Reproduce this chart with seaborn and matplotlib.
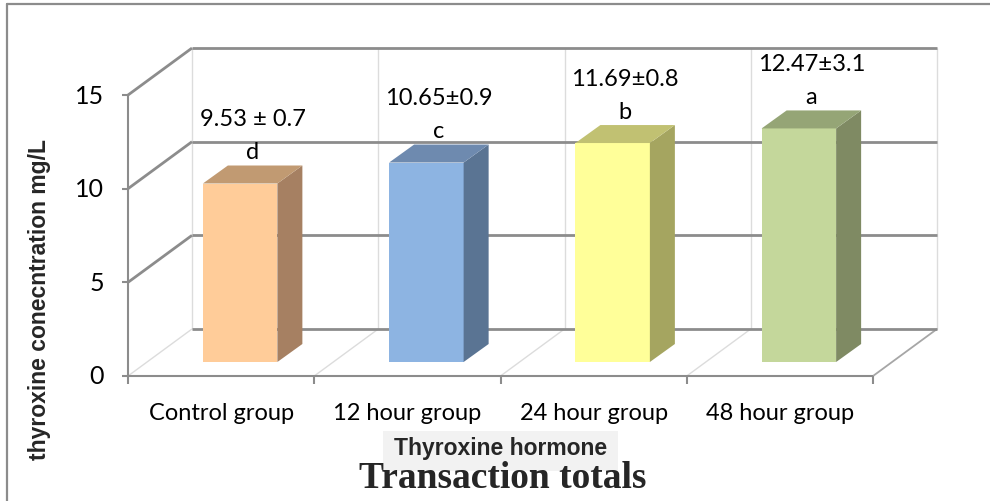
import numpy as np
import pandas as pd
import matplotlib
matplotlib.use("Agg")
import matplotlib.pyplot as plt
import seaborn as sns
from matplotlib.patches import Polygon, Rectangle
from matplotlib.lines import Line2D

# ---------------- data ----------------
categories = ["Control group", "12 hour group", "24 hour group", "48 hour group"]
values = [9.53, 10.65, 11.69, 12.47]
sd_labels = ["9.53 \u00b1 0.7", "10.65\u00b10.9", "11.69\u00b10.8", "12.47\u00b13.1"]
letters = ["d", "c", "b", "a"]
yticks = [0, 5, 10, 15]
front_colors = ["#FFCC99", "#8DB4E2", "#FFFF99", "#C4D79B"]
top_colors = ["#C19A72", "#6E8AAF", "#C1C172", "#95A576"]
side_colors = ["#A68062", "#5A7493", "#A5A560", "#7F8A63"]

sns.set_theme(style="white")
plt.rcParams['font.family'] = ['Lato', 'DejaVu Sans']

W, H, DPI = 990, 502, 100
fig = plt.figure(figsize=(W / DPI, H / DPI), dpi=DPI)

# geometry (pixels, image coords with y down)
FX0, FY0 = 128, 377
CAT_W = 186.25
UNIT_Y = 18.73
BAR_OFF = (19, 14)
BACK_OFF = (64, 47)
DEPTH = (25, 18)

left = (FX0 + BAR_OFF[0]) / W
bottom = (H - (FY0 - BAR_OFF[1])) / H
ax = fig.add_axes([left, bottom, 4 * CAT_W / W, 15 * UNIT_Y / H])

df = pd.DataFrame({"group": categories, "value": values})
sns.barplot(data=df, x="group", y="value", hue="group", palette=front_colors,
            width=0.4, ax=ax, legend=False, saturation=1, edgecolor="none",
            linewidth=0, zorder=5)
ax.set_xlim(-0.5, 3.5)
ax.set_ylim(0, 15)
ax.axis("off")


def off(dx, dy):
    return dx / CAT_W, dy / UNIT_Y


fo = off(-BAR_OFF[0], -BAR_OFF[1])
bo = off(BACK_OFF[0] - BAR_OFF[0], BACK_OFF[1] - BAR_OFF[1])
dp = off(*DEPTH)
n = len(categories)
xl, xr = -0.5, n - 0.5
ymax = yticks[-1]

dark = "#8c8c8c"
light = "#dcdcdc"

def line(xs, ys, color, lw, z=1):
    ax.plot(xs, ys, color=color, lw=lw, clip_on=False, zorder=z,
            solid_capstyle="butt")

# back wall verticals
for k in range(n + 1):
    x = xl + k + bo[0]
    line([x, x], [bo[1], ymax + bo[1]], light, 1.0, 0.5)
# floor diagonals
for k in range(n + 1):
    x = xl + k
    col = "#a6a6a6" if k == n else light
    line([x + fo[0], x + bo[0]], [fo[1], bo[1]], col, 1.3 if k == n else 1.0, 0.6)
# back wall gridlines + side wall diagonals
for v in yticks:
    line([xl + bo[0], xr + bo[0]], [v + bo[1], v + bo[1]], dark, 2.0, 1)
    if v > 0:
        line([xl + fo[0], xl + bo[0]], [v + fo[1], v + bo[1]], dark, 2.0, 1)

# front y axis
line([xl + fo[0], xl + fo[0]], [fo[1], ymax + fo[1]], dark, 1.5, 2)
for v in yticks:
    line([xl + fo[0] - 6 / CAT_W, xl + fo[0]], [v + fo[1], v + fo[1]], dark, 1.5, 2)
    ax.annotate(str(v), xy=(xl + fo[0], v + fo[1]), xytext=(-24, 0),
                textcoords="offset pixels", ha="right", va="center",
                fontsize=18, color="black", annotation_clip=False)
# front x axis
line([xl + fo[0], xr + fo[0]], [fo[1], fo[1]], dark, 1.5, 2)
for k in range(n + 1):
    x = xl + k + fo[0]
    line([x, x], [fo[1], fo[1] - 8 / UNIT_Y], dark, 1.5, 2)
for i, c in enumerate(categories):
    ax.annotate(c, xy=(i + fo[0], fo[1]), xytext=(0, -36),
                textcoords="offset pixels", ha="center", va="center",
                fontsize=17, color="black", annotation_clip=False)

# 3D bar faces
patches = sorted(ax.patches, key=lambda p: p.get_x())
for i, p in enumerate(patches):
    x0, w, h = p.get_x(), p.get_width(), p.get_height()
    side = Polygon([(x0 + w, 0), (x0 + w + dp[0], dp[1]),
                    (x0 + w + dp[0], h + dp[1]), (x0 + w, h)],
                   closed=True, facecolor=side_colors[i], edgecolor="none",
                   zorder=5, clip_on=False)
    top = Polygon([(x0, h), (x0 + w, h), (x0 + w + dp[0], h + dp[1]),
                   (x0 + dp[0], h + dp[1])],
                  closed=True, facecolor=top_colors[i], edgecolor="none",
                  zorder=5, clip_on=False)
    ax.add_patch(side)
    ax.add_patch(top)
    cx = x0 + w / 2 + dp[0] / 2
    ax.annotate(letters[i], xy=(cx, h), xytext=(0, 32), textcoords="offset pixels",
                ha="center", va="center", fontsize=17, color="black",
                annotation_clip=False, zorder=6)
    ax.annotate(sd_labels[i], xy=(cx, h), xytext=(0, 65), textcoords="offset pixels",
                ha="center", va="center", fontsize=17, color="black",
                annotation_clip=False, zorder=6)

# axis titles
bold_sans = ["Liberation Sans", "DejaVu Sans"]
fig.text(40 / W, 1 - 300 / H, "thyroxine conecntration mg/L", rotation=90,
         ha="center", va="center", fontsize=16.5, fontweight="bold",
         family=bold_sans)
fig.add_artist(Rectangle((383 / W, 1 - 472 / H), 235 / W, 40 / H,
                         transform=fig.transFigure, facecolor="#f2f2f2",
                         edgecolor="none", zorder=0))
fig.text(501 / W, 1 - 449 / H, "Thyroxine hormone", ha="center", va="center",
         fontsize=16.5, fontweight="bold", zorder=1, family=bold_sans)
fig.text(503 / W, 1 - 479 / H, "Transaction totals", ha="center", va="center",
         fontsize=27, fontweight="bold", family=["Liberation Serif"], zorder=2)

# outer frame (top and left)
fig.add_artist(Line2D([7 / W, 1], [1 - 5 / H, 1 - 5 / H], color=dark, lw=1.6,
                      transform=fig.transFigure))
fig.add_artist(Line2D([7 / W, 7 / W], [1 - 5 / H, 0], color=dark, lw=1.6,
                      transform=fig.transFigure))

fig.savefig("out.png", dpi=DPI)
